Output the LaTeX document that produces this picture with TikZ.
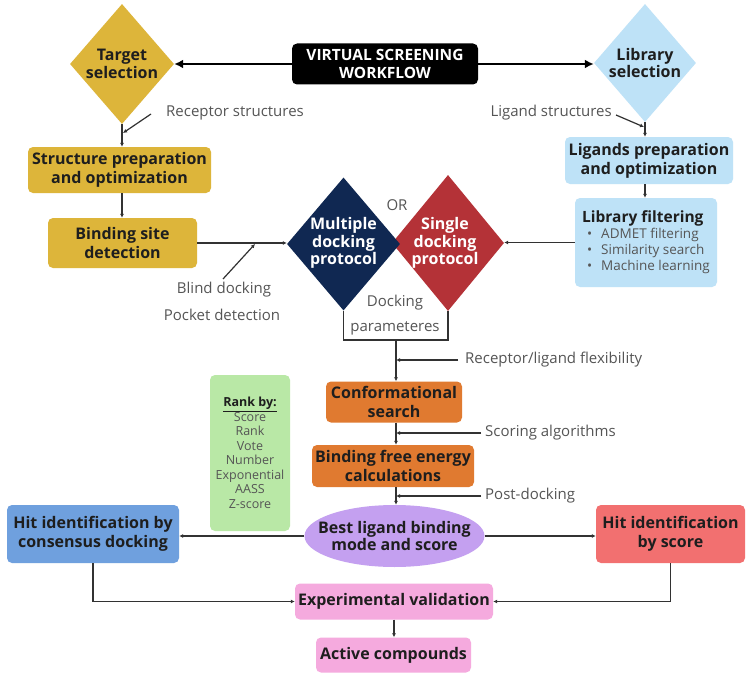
\documentclass[tikz,border=0pt]{standalone}
\usepackage{fontspec}
\setmainfont{Open Sans}
\usetikzlibrary{shapes.geometric,arrows.meta}
\definecolor{gold}{RGB}{221,181,58}
\definecolor{lblue}{RGB}{190,226,247}
\definecolor{navy}{RGB}{16,40,82}
\definecolor{redd}{RGB}{180,50,55}
\definecolor{orng}{RGB}{224,122,48}
\definecolor{purp}{RGB}{196,160,240}
\definecolor{hblue}{RGB}{111,160,222}
\definecolor{salmon}{RGB}{242,112,112}
\definecolor{lgreen}{RGB}{185,232,166}
\definecolor{pinkk}{RGB}{245,170,222}
\definecolor{ink}{RGB}{30,30,30}
\definecolor{graytext}{RGB}{85,85,85}
\definecolor{lineclr}{RGB}{50,50,50}
\tikzset{
 box/.style={rectangle, rounded corners=5pt, inner sep=0pt, align=center, font=\bfseries\fontsize{16}{19}\selectfont, text=ink},
 dia/.style={diamond, inner sep=0pt},
 dtext/.style={align=center, font=\bfseries\fontsize{16}{17.5}\selectfont, inner sep=0pt, text=ink},
 lbl/.style={font=\fontsize{15}{18}\selectfont, text=graytext, inner sep=0pt},
 arr/.style={draw=lineclr, line width=1.2pt, -{Latex[length=4pt,width=4pt]}},
 ln/.style={draw=lineclr, line width=1.2pt},
 big/.style={draw=black, line width=2.2pt, -{Latex[length=9pt,width=9pt]}},
}
\begin{document}
\begin{tikzpicture}[x=1pt,y=-1pt]
\useasboundingbox[fill=white] (0,0) rectangle (753,677);

% top
\node[box, fill=black, text=white, minimum width=186pt, minimum height=41pt, font=\bfseries\fontsize{15.5}{18}\selectfont] (vs) at (385,64) {VIRTUAL SCREENING\\WORKFLOW};
\node[dia, fill=gold, minimum width=104pt, minimum height=120pt] (ts) at (122,64) {};
\node[dtext] (tst) at (ts.center) {Target\\selection};
\node[dia, fill=lblue, minimum width=102pt, minimum height=118pt] (ls) at (645,63) {};
\node[dtext] (lst) at (ls.center) {Library\\selection};
\draw[big] (vs.west) -- (vs.west -| ts.east);
\draw[big] (vs.east) -- (vs.east -| ls.west);

% left column
\node[lbl, anchor=west] (rs) at (166,113) {Receptor structures};
\node[box, fill=gold, minimum width=183pt, minimum height=46pt] (sp) at (119.5,170) {Structure preparation\\and optimization};
\node[box, fill=gold, minimum width=149pt, minimum height=50pt] (bs) at (122.5,243) {Binding site\\detection};
\draw[arr] (ts.south) -- (ts.south |- sp.north);
\coordinate (rsA) at (151,114);
\coordinate (rsB) at (123,133);
\draw[arr] (rsA) -- (rsB);
\draw[arr] (ts.south |- sp.south) -- (ts.south |- bs.north);
\node[lbl] (bd) at (224,290) {Blind docking};
\node[lbl] (pd) at (222,315) {Pocket detection};

% right column
\node[lbl, anchor=east] (lgs) at (612,113) {Ligand structures};
\coordinate (lsA) at (616,115);
\coordinate (lsB) at (644,127);
\draw[arr] (lsA) -- (lsB);
\node[box, fill=lblue, minimum width=168pt, minimum height=47pt] (lp) at (649,160.5) {Ligands preparation\\and optimization};
\node[box, fill=lblue, minimum width=142pt, minimum height=89pt, align=left, font=\fontsize{13.5}{16}\selectfont, text=graytext] (lf) at (646,242.5)
 {{\color{ink}\bfseries\fontsize{15.5}{18}\selectfont Library filtering}\\
  \hspace{5pt}\textbullet\hspace{9pt}ADMET filtering\\
  \hspace{5pt}\textbullet\hspace{9pt}Similarity search\\
  \hspace{5pt}\textbullet\hspace{9pt}Machine learning};
\draw[arr] (ls.south) -- (ls.south |- lp.north);
\draw[arr] (ls.south |- lp.south) -- (ls.south |- lf.north);

% docking diamonds
\node[dia, fill=redd, minimum width=112pt, minimum height=136pt] (sdp) at (448,243) {};
\node[dia, fill=navy, minimum width=113pt, minimum height=133pt] (mdp) at (343.5,244) {};
\node[dtext, text=white] (mdpt) at (343.5,243) {Multiple\\docking\\protocol};
\node[dtext, text=white] (sdpt) at (445,243) {Single\\docking\\protocol};
\node[lbl] (orl) at (397,205) {OR};
\draw[arr] (bs.east) -- (bs.east -| mdp.west);
\coordinate (bdA) at (223,279);
\coordinate (bdB) at (255,244);
\draw[arr] (bdA) -- (bdB);
\draw[arr] (lf.west) -- (lf.west -| sdp.east);
\node[lbl, align=center, font=\fontsize{15}{25}\selectfont] (dp) at (395,315) {Docking\\parameteres};
\coordinate (dj) at (396,340);
\draw[ln] (mdp.south) -- (mdp.south |- dj) -- (sdp.south |- dj) -- (sdp.south);

% centre column
\node[box, fill=orng, minimum width=136pt, minimum height=41pt] (cs) at (394,402) {Conformational\\search};
\node[box, fill=orng, minimum width=162pt, minimum height=42pt] (bf) at (393,466) {Binding free energy\\calculations};
\node[ellipse, fill=purp, minimum width=180pt, minimum height=62pt, inner sep=0pt] (bl) at (394.5,536) {};
\node[dtext] (blt) at (bl.center) {Best ligand binding\\mode and score};
\draw[arr] (dj) -- (dj |- cs.north);
\draw[arr] (dj |- cs.south) -- (dj |- bf.north);
\draw[arr] (dj |- bf.south) -- (dj |- bl.north);
\node[lbl, anchor=west] (rlf) at (465,360) {Receptor/ligand flexibility};
\node[lbl, anchor=west] (sa) at (485,433) {Scoring algorithms};
\node[lbl, anchor=west] (pdk) at (485,496) {Post-docking};
\draw[arr] ([xshift=-7pt]rlf.west) -- (dj |- rlf.west);
\draw[arr] ([xshift=-4pt]sa.west) -- (dj |- sa.west);
\draw[arr] ([xshift=-4pt]pdk.west) -- (dj |- pdk.west);

% rank box
\node[box, fill=lgreen, minimum width=80pt, minimum height=156pt, font=\fontsize{12.5}{14.5}\selectfont, text=graytext] (rk) at (250,453)
 {{\color{ink}\bfseries\underline{Rank by:}}\\Score\\Rank\\Vote\\Number\\Exponential\\AASS\\Z-score};

% hits
\node[box, fill=hblue, minimum width=172pt, minimum height=58pt] (hc) at (93,534) {Hit identification by\\consensus docking};
\node[box, fill=salmon, minimum width=149pt, minimum height=58pt] (hs) at (670.5,534) {Hit identification\\by score};
\draw[arr] (bl.west) -- (bl.west -| hc.east);
\draw[arr] (bl.east) -- (bl.east -| hs.west);

% bottom
\node[box, fill=pinkk, minimum width=198pt, minimum height=36pt] (ev) at (394,601.5) {Experimental validation};
\node[box, fill=pinkk, minimum width=155pt, minimum height=35pt] (ac) at (393.5,655) {Active compounds};
\draw[arr] (hc.south) |- (ev.west);
\draw[arr] (hs.south) |- (ev.east);
\draw[arr] (ev.south) -- (ev.south |- ac.north);
\end{tikzpicture}
\end{document}
